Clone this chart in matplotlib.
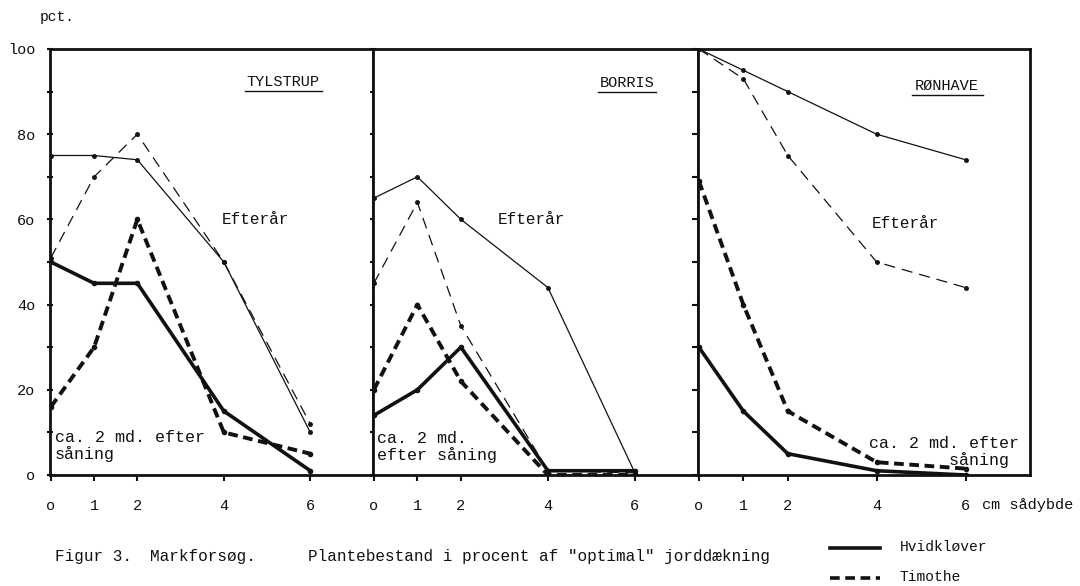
import matplotlib.pyplot as plt

plt.rcParams['font.family'] = ['Liberation Mono', 'DejaVu Sans Mono']
plt.rcParams['lines.scale_dashes'] = False

# saadybde i cm
depth = [0, 1, 2, 4, 6]

sites = ["TYLSTRUP", "BORRIS", "RØNHAVE"]

# Efteraar (thin lines)
hvid_efter = [
    [75, 75, 74, 50, 10],
    [65, 70, 60, 44, 0.5],
    [100, 95, 90, 80, 74],
]
timo_efter = [
    [51, 70, 80, 50, 12],
    [45, 64, 35, 1, 0.5],
    [100, 93, 75, 50, 44],
]
# ca. 2 md. efter saaning (thick lines)
hvid_2md = [
    [50, 45, 45, 15, 1],
    [14, 20, 30, 1, 1],
    [30, 15, 5, 1, 0],
]
timo_2md = [
    [16, 30, 60, 10, 5],
    [20, 40, 22, 0, 0],
    [69, 40, 15, 3, 1.5],
]

ytick_labels = ["o", "2o", "4o", "6o", "8o", "loo"]
xtick_labels = ["o", "1", "2", "4", "6"]

fig = plt.figure(figsize=(10.8, 5.86), dpi=100)
W, H = 1080, 586
bottom = 1 - 475 / H
height = (475 - 49) / H
panels = [(50, 373), (373, 698), (698, 1030)]


def px(xp, yp):
    return xp / W, 1 - yp / H


# pixel positions for the panel texts
site_text = [
    dict(title=(283, 82, 245, 322), efter=(222, 220), twomd=(55, 446, "ca. 2 md. efter\nsåning")),
    dict(title=(627, 83, 598, 656), efter=(498, 220), twomd=(377, 447, "ca. 2 md.\nefter såning")),
    dict(title=(947, 86, 912, 983), efter=(872, 224), twomd=(869, 452, "ca. 2 md. efter\n        såning")),
]

c = "#111111"
for i, (x0, x1) in enumerate(panels):
    ax = fig.add_axes([x0 / W, bottom, (x1 - x0) / W, height])
    ax.set_xlim(-0.02, 7.45)
    ax.set_ylim(0, 100)
    ax.plot(depth, hvid_efter[i], color=c, lw=0.9, marker='o', ms=2.5)
    ax.plot(depth, timo_efter[i], color=c, lw=0.9, marker='o', ms=2.5, dashes=(8, 5))
    ax.plot(depth, hvid_2md[i], color=c, lw=2.6, marker='o', ms=3)
    ax.plot(depth, timo_2md[i], color=c, lw=2.8, marker='o', ms=3, dashes=(7, 4))
    for s in ax.spines.values():
        s.set_linewidth(2)
        s.set_color(c)
    ax.set_xticks(depth)
    ax.set_xticklabels(xtick_labels, fontsize=11)
    ax.tick_params(axis='x', direction='out', length=4, width=1.5, pad=13, colors=c)
    ax.set_yticks(range(0, 101, 10))
    if i == 0:
        ax.set_yticklabels([ytick_labels[k // 2] if k % 2 == 0 else "" for k in range(11)], fontsize=11)
        ax.tick_params(axis='y', direction='inout', length=5, width=1.5, pad=8, colors=c,
                       right=True, labelright=False)
    elif i == 1:
        ax.set_yticklabels([])
        ax.tick_params(axis='y', left=False, right=True, direction='in', length=4, width=1.5, colors=c)
    else:
        ax.set_yticklabels([])
        ax.tick_params(axis='y', left=False, right=False)

    t = site_text[i]
    tx, ty, ux0, ux1 = t["title"]
    fig.text(*px(tx, ty), sites[i], ha='center', va='center', fontsize=11, color=c)
    fig.lines.append(plt.Line2D([ux0 / W, ux1 / W], [1 - (ty + 9) / H] * 2,
                                transform=fig.transFigure, color=c, lw=1))
    fig.text(*px(*t["efter"]), "Efterår", fontsize=11.5, ha='left', va='center', color=c)
    bx, by, txt = t["twomd"]
    fig.text(*px(bx, by), txt, fontsize=12, ha='left', va='center', color=c, linespacing=1.1)

# unit label after the last tick
fig.text(*px(982, 505), "cm sådybde", fontsize=11, va='center', color=c)

fig.text(*px(40, 17), "pct.", fontsize=10.5, va='center', color=c)
fig.text(*px(55, 557), "Figur 3.", fontsize=11.5, va='center', color=c)
fig.text(*px(150, 557), "Markforsøg.", fontsize=11.5, va='center', color=c)
fig.text(*px(308, 557), "Plantebestand i procent af \"optimal\" jorddækning", fontsize=11.5,
         va='center', color=c)

# legend
fig.lines.append(plt.Line2D([830 / W, 880 / W], [1 - 548 / H] * 2, transform=fig.transFigure, color=c, lw=2.6))
fig.lines.append(plt.Line2D([830 / W, 880 / W], [1 - 578 / H] * 2, transform=fig.transFigure, color=c, lw=2.6,
                            dashes=(7, 4)))
fig.text(*px(900, 547), "Hvidkløver", fontsize=10.5, va='center', color=c)
fig.text(*px(900, 577), "Timothe", fontsize=10.5, va='center', color=c)

fig.savefig("out.png", dpi=100)
